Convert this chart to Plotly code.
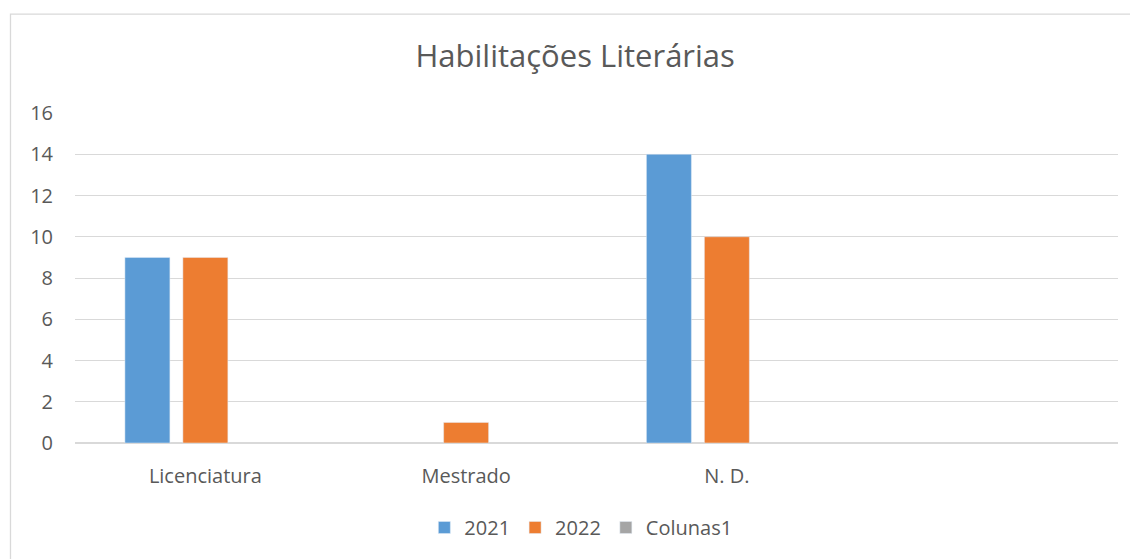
import plotly.graph_objects as go

# Chart data
categories = ["Licenciatura", "Mestrado", "N. D.", " "]
values_2021 = [9, None, 14, None]
values_2022 = [9, 1, 10, None]
values_colunas1 = [None, None, None, None]

series = [
    ("2021", values_2021, "#5B9BD5"),
    ("2022", values_2022, "#ED7D31"),
    ("Colunas1", values_colunas1, "#A5A5A5"),
]

FONT = "Open Sans"
TEXT_COLOR = "#595959"
GRID_COLOR = "#D9D9D9"

fig = go.Figure()
for name, vals, color in series:
    fig.add_trace(go.Bar(
        name=name,
        x=categories,
        y=vals,
        marker=dict(color=color),
        hoverinfo="x+y+name",
    ))

fig.update_layout(
    width=1130,
    height=559,
    margin=dict(l=75, r=12, t=113, b=114),
    paper_bgcolor="white",
    plot_bgcolor="white",
    barmode="group",
    bargap=0.333,
    bargroupgap=0.224,
    font=dict(family=FONT, color=TEXT_COLOR, size=20),
    title=dict(
        text="Habilitações Literárias",
        x=0.509,
        xanchor="center",
        y=1 - 56 / 559,
        yref="container",
        yanchor="middle",
        font=dict(family=FONT, size=31, color=TEXT_COLOR),
    ),
    showlegend=True,
    legend=dict(
        orientation="h",
        x=0.485,
        xanchor="center",
        y=-0.256,
        yanchor="middle",
        font=dict(family=FONT, size=20, color=TEXT_COLOR),
        traceorder="normal",
    ),
    xaxis=dict(
        type="category",
        categoryorder="array",
        categoryarray=categories,
        showgrid=False,
        showline=False,
        zeroline=False,
        ticks="",
        ticklabelstandoff=19,
        tickfont=dict(family=FONT, size=20, color=TEXT_COLOR),
    ),
    yaxis=dict(
        range=[0, 16],
        tickvals=[0, 2, 4, 6, 8, 10, 12, 14, 16],
        showgrid=True,
        gridcolor=GRID_COLOR,
        gridwidth=1,
        zeroline=True,
        zerolinecolor=GRID_COLOR,
        zerolinewidth=1.5,
        showline=False,
        ticks="",
        ticklabelstandoff=21,
        tickfont=dict(family=FONT, size=20, color=TEXT_COLOR),
    ),
    shapes=[
        dict(
            type="rect",
            xref="paper",
            yref="paper",
            x0=(10.5 - 75) / 1043,
            x1=1.2,
            y0=-0.5,
            y1=(445 - 13.5) / 332,
            line=dict(color=GRID_COLOR, width=1.3),
            fillcolor="rgba(0,0,0,0)",
            layer="below",
        )
    ],
)

fig.write_html("out.html")
